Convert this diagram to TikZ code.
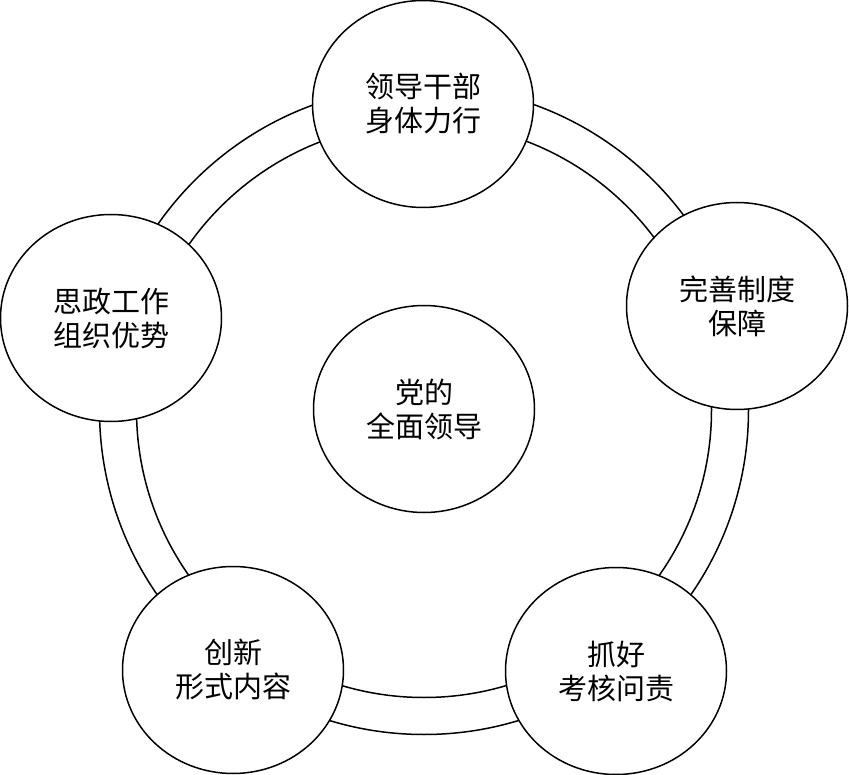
\documentclass[tikz,border=0pt]{standalone}
\usepackage{fontspec}
\setmainfont{Noto Sans CJK SC}
\usetikzlibrary{shapes.geometric}
\tikzset{
  bubble/.style={ellipse, draw=black, line width=1.5pt, fill=white,
    minimum width=221pt, minimum height=207pt, inner sep=0pt,
    align=center, font=\fontsize{29pt}{34pt}\selectfont},
  ringline/.style={draw=black, line width=1.5pt}
}
\begin{document}
\begin{tikzpicture}[x=1pt,y=-1pt]
\useasboundingbox (0,0) rectangle (849,775);
\coordinate (c) at (424,410);
\draw[ringline] (c) circle[radius=324.5pt];
\draw[ringline] (c) circle[radius=287.5pt];
\node[bubble] (center) at (424,409) {党的\\全面领导};
\node[bubble] (top) at (423,104) {领导干部\\身体力行};
\node[bubble] (right) at (737,306) {完善制度\\保障};
\node[bubble] (left) at (111,318) {思政工作\\组织优势};
\node[bubble] (bl) at (233,670) {创新\\形式内容};
\node[bubble] (br) at (616,671) {抓好\\考核问责};
\end{tikzpicture}
\end{document}
